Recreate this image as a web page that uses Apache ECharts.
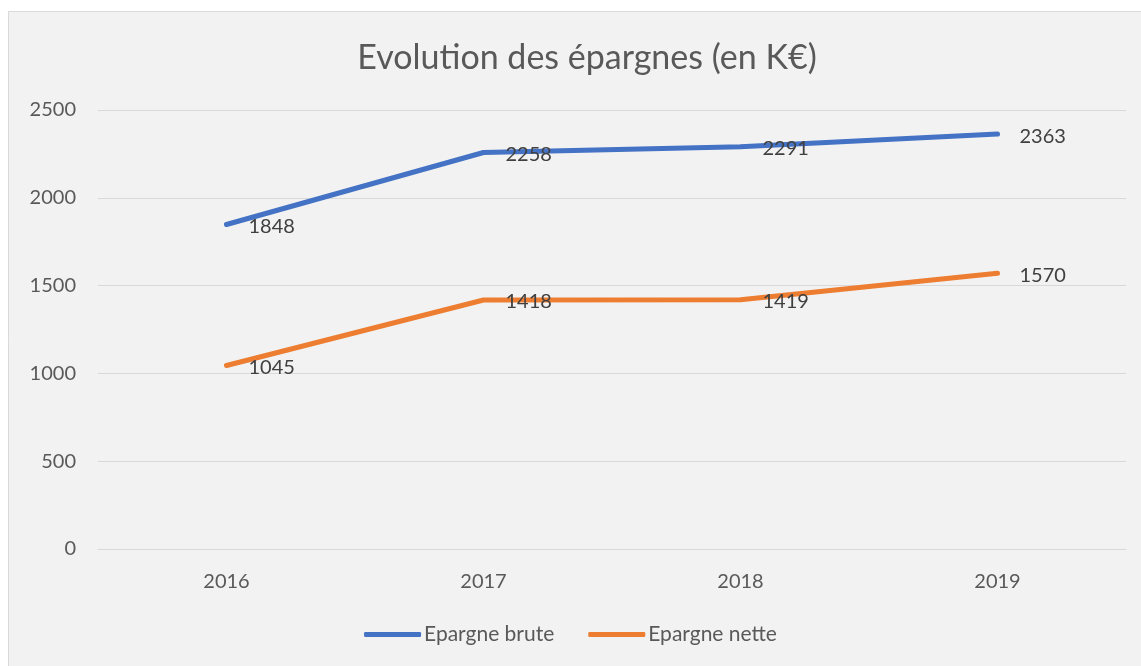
<!DOCTYPE html>
<html>
<head>
<meta charset="utf-8">
<script src="https://cdn.jsdelivr.net/npm/echarts@6/dist/echarts.min.js"></script>
<style>
  html, body { margin: 0; padding: 0; background: #fff; }
  #chart { width: 1141px; height: 666px; }
</style>
</head>
<body>
<div id="chart"></div>
<script>
const years = ['2016', '2017', '2018', '2019']
const epargneBrute = [1848, 2258, 2291, 2363]
const epargneNette = [1045, 1418, 1419, 1570]
const seriesNames = ['Epargne brute', 'Epargne nette']

const font = 'Lato, "Open Sans", sans-serif'
const myChart = echarts.init(document.getElementById('chart'))

const labelStyle = {
  show: true,
  position: 'right',
  distance: 20,
  offset: [0, 2],
  color: '#404040',
  fontSize: 20,
  fontFamily: font
}

myChart.setOption({
  backgroundColor: '#fff',
  color: ['#4472c4', '#ed7d31'],
  graphic: [
    {
      type: 'rect',
      z: -10,
      silent: true,
      shape: { x: 8.5, y: 11.5, width: 1140, height: 660 },
      style: { fill: '#f2f2f2', stroke: '#d9d9d9', lineWidth: 1 }
    }
  ],
  title: {
    text: 'Evolution des épargnes (en K€)',
    left: 582,
    textAlign: 'center',
    top: 36,
    textStyle: {
      color: '#595959',
      fontSize: 34,
      fontWeight: 'normal',
      fontFamily: font
    }
  },
  legend: {
    data: seriesNames,
    bottom: 16,
    left: 'center',
    icon: 'roundRect',
    itemWidth: 57,
    itemHeight: 5,
    itemGap: 34,
    textStyle: { color: '#595959', fontSize: 21, fontFamily: font, padding: [0, 0, 0, -2] }
  },
  grid: {
    left: 98,
    right: 15,
    top: 110,
    bottom: 117,
    containLabel: false
  },
  xAxis: {
    type: 'category',
    data: years,
    boundaryGap: true,
    axisLine: { lineStyle: { color: '#d9d9d9' } },
    axisTick: { show: false },
    axisLabel: { color: '#595959', fontSize: 20, fontFamily: font, margin: 23 }
  },
  yAxis: {
    type: 'value',
    min: 0,
    max: 2500,
    interval: 500,
    axisLine: { show: false },
    axisTick: { show: false },
    splitLine: { lineStyle: { color: '#d9d9d9', width: 1 } },
    axisLabel: { color: '#595959', fontSize: 20, fontFamily: font, margin: 22, formatter: v => String(v) }
  },
  series: [
    {
      name: seriesNames[0],
      type: 'line',
      data: epargneBrute,
      symbol: 'circle',
      symbolSize: 4,
      showSymbol: true,
      lineStyle: { width: 5, cap: 'round', join: 'round' },
      label: labelStyle
    },
    {
      name: seriesNames[1],
      type: 'line',
      data: epargneNette,
      symbol: 'circle',
      symbolSize: 4,
      showSymbol: true,
      lineStyle: { width: 5, cap: 'round', join: 'round' },
      label: labelStyle
    }
  ]
})
</script>
</body>
</html>
